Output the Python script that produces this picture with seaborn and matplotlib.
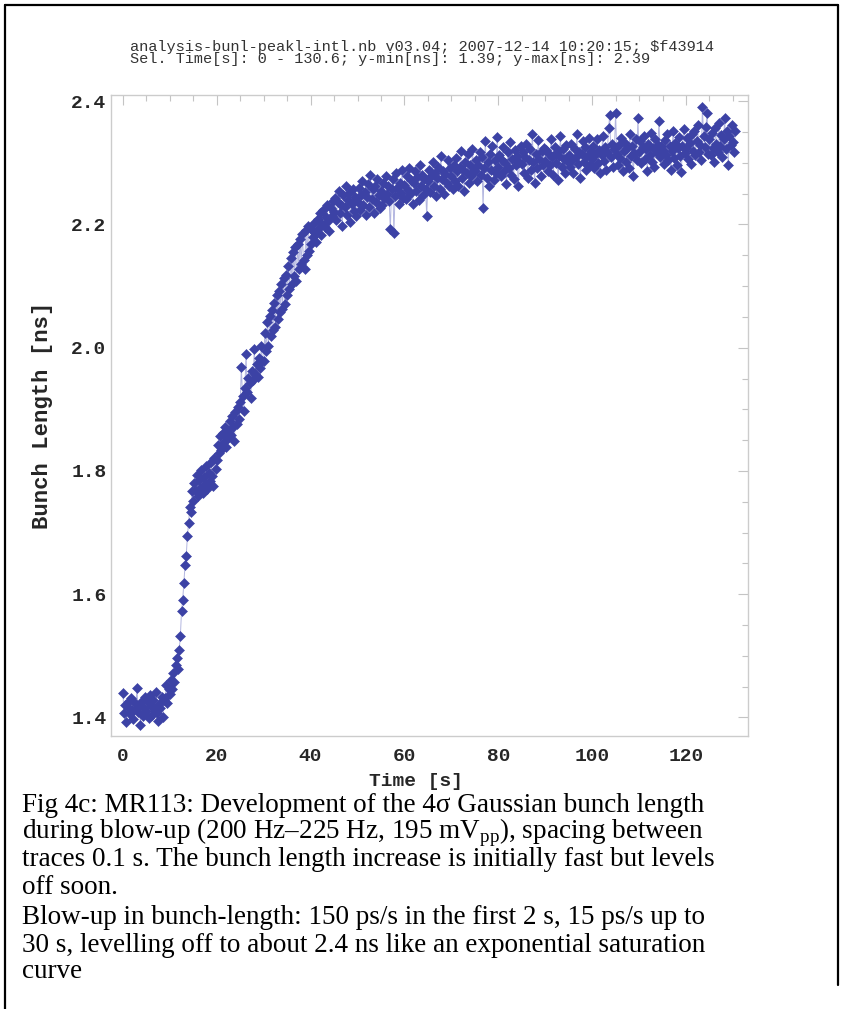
import numpy as np
import matplotlib
matplotlib.use("Agg")
import matplotlib.pyplot as plt
import seaborn as sns
from matplotlib.lines import Line2D
from matplotlib.ticker import MultipleLocator

# bunch length [ns], one value every 0.25 s (rows = 5 s)
bunch_ns = [
    1.440, 1.408, 1.421, 1.392, 1.417, 1.426, 1.405, 1.431, 1.412, 1.398, 1.423, 1.414, 1.448, 1.409, 1.419, 1.388, 1.427, 1.403, 1.416, 1.434,
    1.411, 1.425, 1.399, 1.437, 1.418, 1.404, 1.429, 1.413, 1.441, 1.407, 1.395, 1.422, 1.416, 1.433, 1.401, 1.428, 1.431, 1.452, 1.424, 1.447,
    1.438, 1.461, 1.447, 1.472, 1.458, 1.485, 1.497, 1.478, 1.509, 1.532, 1.572, 1.591, 1.618, 1.647, 1.662, 1.694, 1.715, 1.741, 1.733, 1.768,
    1.752, 1.781, 1.768, 1.794, 1.759, 1.786, 1.773, 1.802, 1.765, 1.791, 1.779, 1.808, 1.771, 1.797, 1.784, 1.815, 1.792, 1.776, 1.821, 1.803,
    1.818, 1.842, 1.829, 1.856, 1.834, 1.861, 1.847, 1.872, 1.839, 1.866, 1.853, 1.881, 1.858, 1.889, 1.871, 1.848, 1.895, 1.877, 1.903, 1.884,
    1.912, 1.968, 1.921, 1.897, 1.935, 1.989, 1.928, 1.951, 1.943, 1.919, 1.962, 1.947, 1.998, 1.958, 1.974, 1.952, 1.983, 1.967, 2.003, 1.979,
    1.978, 2.024, 1.995, 2.041, 2.003, 2.052, 2.019, 2.061, 2.028, 2.073, 2.034, 2.086, 2.047, 2.092, 2.058, 2.104, 2.063, 2.113, 2.071, 2.118,
    2.085, 2.132, 2.096, 2.146, 2.104, 2.155, 2.117, 2.163, 2.109, 2.169, 2.128, 2.177, 2.136, 2.184, 2.142, 2.128, 2.191, 2.151, 2.198, 2.157,
    2.168, 2.191, 2.179, 2.203, 2.186, 2.172, 2.209, 2.194, 2.218, 2.183, 2.201, 2.224, 2.196, 2.212, 2.231, 2.205, 2.189, 2.226, 2.214, 2.238,
    2.221, 2.243, 2.208, 2.236, 2.254, 2.219, 2.232, 2.197, 2.247, 2.228, 2.262, 2.215, 2.239, 2.251, 2.204, 2.233, 2.258, 2.222, 2.244, 2.213,
    2.237, 2.259, 2.224, 2.248, 2.271, 2.232, 2.253, 2.216, 2.244, 2.266, 2.229, 2.281, 2.241, 2.257, 2.219, 2.262, 2.236, 2.274, 2.248, 2.227,
    2.254, 2.231, 2.268, 2.243, 2.279, 2.249, 2.262, 2.238, 2.192, 2.257, 2.273, 2.186, 2.246, 2.284, 2.259, 2.234, 2.267, 2.251, 2.289, 2.243,
    2.264, 2.241, 2.278, 2.256, 2.291, 2.249, 2.272, 2.233, 2.268, 2.286, 2.254, 2.277, 2.239, 2.296, 2.262, 2.281, 2.247, 2.273, 2.258, 2.214,
    2.271, 2.289, 2.253, 2.279, 2.301, 2.262, 2.284, 2.246, 2.276, 2.294, 2.258, 2.311, 2.273, 2.287, 2.249, 2.282, 2.268, 2.305, 2.263, 2.291,
    2.279, 2.258, 2.297, 2.271, 2.308, 2.286, 2.262, 2.294, 2.319, 2.275, 2.289, 2.254, 2.301, 2.283, 2.314, 2.267, 2.296, 2.278, 2.323, 2.288,
    2.286, 2.304, 2.271, 2.297, 2.318, 2.281, 2.309, 2.227, 2.292, 2.336, 2.276, 2.301, 2.263, 2.314, 2.289, 2.327, 2.272, 2.305, 2.284, 2.342,
    2.293, 2.312, 2.278, 2.304, 2.326, 2.287, 2.299, 2.266, 2.318, 2.291, 2.334, 2.281, 2.307, 2.273, 2.321, 2.296, 2.311, 2.262, 2.302, 2.328,
    2.298, 2.317, 2.283, 2.309, 2.331, 2.276, 2.304, 2.322, 2.289, 2.346, 2.301, 2.268, 2.314, 2.292, 2.337, 2.306, 2.279, 2.319, 2.296, 2.324,
    2.303, 2.321, 2.287, 2.314, 2.296, 2.338, 2.309, 2.281, 2.326, 2.299, 2.317, 2.272, 2.311, 2.343, 2.293, 2.322, 2.306, 2.284, 2.329, 2.301,
    2.312, 2.294, 2.331, 2.305, 2.284, 2.322, 2.309, 2.347, 2.298, 2.318, 2.276, 2.314, 2.336, 2.302, 2.325, 2.289, 2.311, 2.341, 2.297, 2.319,
    2.306, 2.327, 2.291, 2.315, 2.338, 2.299, 2.321, 2.283, 2.312, 2.344, 2.303, 2.326, 2.288, 2.318, 2.357, 2.377, 2.309, 2.331, 2.294, 2.322,
    2.381, 2.314, 2.297, 2.329, 2.308, 2.341, 2.286, 2.319, 2.333, 2.301, 2.324, 2.292, 2.346, 2.311, 2.328, 2.279, 2.316, 2.339, 2.305, 2.372,
    2.318, 2.335, 2.299, 2.326, 2.344, 2.307, 2.322, 2.287, 2.331, 2.313, 2.349, 2.302, 2.324, 2.293, 2.338, 2.316, 2.329, 2.368, 2.309, 2.327,
    2.321, 2.298, 2.337, 2.312, 2.346, 2.304, 2.328, 2.289, 2.319, 2.351, 2.308, 2.333, 2.296, 2.324, 2.342, 2.311, 2.285, 2.327, 2.355, 2.316,
    2.324, 2.341, 2.307, 2.333, 2.298, 2.346, 2.319, 2.352, 2.312, 2.336, 2.362, 2.318, 2.329, 2.304, 2.390, 2.343, 2.326, 2.358, 2.381, 2.314,
    2.339, 2.313, 2.348, 2.324, 2.301, 2.356, 2.331, 2.317, 2.364, 2.327, 2.345, 2.309, 2.338, 2.372, 2.322, 2.351, 2.296, 2.343, 2.329, 2.361,
    2.334, 2.318, 2.352,
]
step_s = 0.25
time_s = np.arange(len(bunch_ns)) * step_s

x_ticks = [0, 20, 40, 60, 80, 100, 120]
y_ticks = [1.4, 1.6, 1.8, 2.0, 2.2, 2.4]

header = [
    r"analysis-bunl-peakl-intl.nb v03.04; 2007-12-14 10:20:15; \$f43914",
    "Sel. Time[s]: 0 - 130.6; y-min[ns]: 1.39; y-max[ns]: 2.39",
]
caption = [
    "Fig 4c: MR113: Development of the 4σ Gaussian bunch length",
    r"during blow-up (200 Hz–225 Hz, 195 mV$_{\mathrm{pp}}$), spacing between",
    "traces 0.1 s. The bunch length increase is initially fast but levels",
    "off soon.",
    "Blow-up in bunch-length: 150 ps/s in the first 2 s, 15 ps/s up to",
    "30 s, levelling off to about 2.4 ns like an exponential saturation",
    "curve",
]

sns.set_style("white")
plt.rcParams["font.family"] = ["Liberation Mono", "DejaVu Sans Mono"]
plt.rcParams["mathtext.fontset"] = "custom"
plt.rcParams["mathtext.rm"] = "Liberation Serif"

fig = plt.figure(figsize=(8.48, 10.09), dpi=100)
ax = fig.add_axes([0.1305, 0.2706, 0.7515, 0.6352])

sns.lineplot(x=time_s, y=bunch_ns, ax=ax, estimator=None, sort=False,
             color="#b3b6e0", lw=0.7, marker="D", markersize=5.6,
             markerfacecolor="#3c42a5", markeredgecolor="#3c42a5",
             markeredgewidth=0.4)

ax.set_xlim(-2.6, 133.2)
ax.set_ylim(1.37, 2.41)
ax.set_xticks(x_ticks)
ax.set_yticks(y_ticks)
ax.set_xticklabels([str(v) for v in x_ticks])
ax.set_yticklabels([f"{v:.1f}" for v in y_ticks])
ax.xaxis.set_minor_locator(MultipleLocator(5))
ax.yaxis.set_minor_locator(MultipleLocator(0.05))
ax.tick_params(which="both", direction="in", top=True, right=True,
               color="#c4c4c4", width=0.8, labelsize=14)
ax.tick_params(which="major", length=7)
ax.tick_params(which="minor", length=4)
ax.tick_params(axis="x", pad=9)
ax.tick_params(axis="y", pad=3)
for lab in ax.get_xticklabels() + ax.get_yticklabels():
    lab.set_fontweight("bold")
for sp in ax.spines.values():
    sp.set_color("#cccccc")
    sp.set_linewidth(1.0)

ax.set_xlabel("Time [s]", fontsize=14, fontweight="bold")
ax.set_ylabel("Bunch Length [ns]", fontsize=16, fontweight="bold")
ax.xaxis.set_label_coords(0.479, -0.058)
ax.yaxis.set_label_coords(-0.090, 0.5)

W, H = 848, 1009
fig.text(130 / W, 1 - 47 / H, header[0], fontsize=11, color="#333333", va="center")
fig.text(130 / W, 1 - 59.5 / H, header[1], fontsize=11, color="#333333", va="center")

cap_y = [806, 833, 860, 888, 917, 945, 972]
for line, yy in zip(caption, cap_y):
    fig.text(22 / W, 1 - yy / H, line, fontsize=19.5, family="Liberation Serif",
             color="black", va="center")

# frame around the figure panel
fig.add_artist(Line2D([5 / W, 838 / W], [1 - 5 / H, 1 - 5 / H], color="black", lw=1.6))
fig.add_artist(Line2D([5 / W, 5 / W], [1 - 5 / H, 0], color="black", lw=1.6))
fig.add_artist(Line2D([838 / W, 838 / W], [1 - 5 / H, 1 - 985 / H], color="black", lw=1.6))

fig.savefig("out.png", dpi=100)
